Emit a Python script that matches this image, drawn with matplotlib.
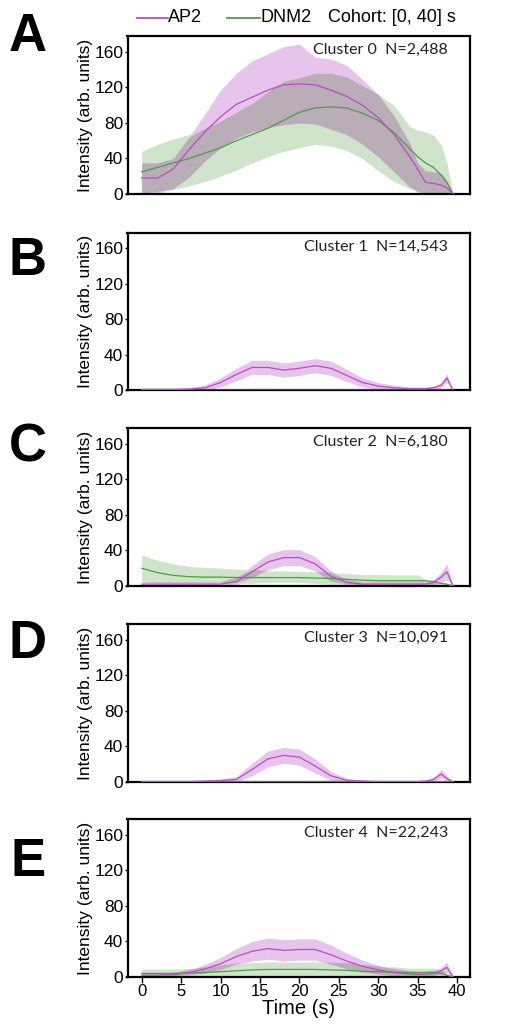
import numpy as np
import matplotlib
matplotlib.use("Agg")
import matplotlib.pyplot as plt
from matplotlib.lines import Line2D

# time points (s), shared by every panel
t = [0, 2, 4, 6, 8, 10, 12, 14, 16, 18, 20, 22, 24, 26, 28, 30, 32, 34, 35, 36, 37, 38, 38.7, 39.5]

letters = ["A", "B", "C", "D", "E"]
cluster_labels = ["Cluster 0  N=2,488", "Cluster 1  N=14,543", "Cluster 2  N=6,180",
                  "Cluster 3  N=10,091", "Cluster 4  N=22,243"]

# AP2 mean and band (one row per cluster)
ap2_mean = [
    [18, 18, 28, 50, 70, 87, 101, 109, 117, 123, 124, 123, 117, 110, 100, 86, 67, 42, 28, 13, 12, 10, 7, 0],
    [1, 1, 1, 1.5, 3, 9, 18, 26, 26, 23, 25, 28, 25, 17, 9, 5, 3, 2, 2, 2, 3, 6, 14, 0],
    [2, 2, 2, 2, 2, 2, 5, 16, 27, 32, 32, 25, 11, 4, 2, 2, 2, 2, 2, 2, 4, 10, 16, 0],
    [0.5, 0.5, 0.5, 0.5, 1, 1.5, 3, 14, 26, 30, 28, 18, 7, 2, 1, 0.5, 0.5, 0.5, 0.5, 1, 3, 9, 4, 0],
    [2, 2, 2.5, 5, 9, 15, 23, 29, 32, 30, 31, 31, 25, 18, 12, 8, 5, 3.5, 3, 3, 4, 7, 11, 0],
]
ap2_lo = [
    [1, 1, 6, 19, 37, 52, 63, 70, 75, 78, 80, 79, 73, 67, 56, 42, 25, 8, 2, 0, 0, 0, 0, 0],
    [0, 0, 0, 0, 0, 4, 11, 18, 18, 15, 17, 20, 17, 10, 4, 1, 0, 0, 0, 0, 1, 3, 9, 0],
    [0, 0, 0, 0, 0, 0, 1, 9, 18, 23, 23, 17, 5, 1, 0, 0, 0, 0, 0, 0, 1, 4, 7, 0],
    [0, 0, 0, 0, 0, 0, 0, 7, 17, 21, 19, 10, 2, 0, 0, 0, 0, 0, 0, 0, 1, 4, 1, 0],
    [1, 1, 0.5, 2, 4, 8, 14, 18, 20, 18, 19, 19, 14, 9, 5, 3, 1, 0.5, 0, 0, 1, 3, 5, 0],
]
ap2_hi = [
    [35, 35, 40, 64, 90, 117, 136, 150, 158, 166, 169, 154, 152, 145, 129, 112, 88, 57, 35, 26, 25, 23, 15, 0],
    [3, 3, 3, 3.5, 6, 14, 25, 34, 34, 31, 33, 36, 33, 24, 14, 9, 6, 4, 4, 4, 5, 9, 19, 0],
    [4, 4, 4, 4, 4, 4, 9, 23, 36, 41, 41, 33, 17, 7, 4, 4, 4, 4, 4, 4, 7, 16, 25, 0],
    [1.5, 1.5, 1.5, 1.5, 2, 3.5, 6, 21, 35, 39, 37, 26, 12, 4, 2, 1.5, 1.5, 1.5, 1.5, 2, 5, 14, 7, 0],
    [3, 3, 4.5, 8, 14, 22, 32, 40, 44, 42, 43, 43, 36, 27, 19, 13, 9, 6.5, 6, 6, 7, 11, 17, 0],
]

# DNM2 mean and band
dnm2_mean = [
    [25, 30, 35, 40, 46, 52, 60, 67, 74, 83, 92, 97, 98, 97, 91, 83, 69, 51, 42, 35, 30, 21, 13, 0],
    [0.5] * 23 + [0],
    [20, 15, 12, 10.5, 10, 10, 9.5, 9.5, 9.5, 9.5, 9.5, 9, 8.5, 7.5, 6.5, 6, 6, 6, 6, 6, 5, 3, 2, 0],
    [0.3] * 23 + [0],
    [4, 4, 4, 4.5, 5, 6, 7, 8, 8.5, 8.5, 8.5, 8.5, 8, 7.5, 6.5, 6, 5.5, 5, 5, 5, 5, 4, 2, 0],
]
dnm2_lo = [
    [0, 3, 5, 9, 14, 20, 27, 35, 42, 48, 52, 56, 54, 49, 40, 26, 14, 6, 3, 1, 0, 0, 0, 0],
    [0] * 24,
    [4, 3, 3, 3, 3, 3, 3, 3, 4, 4, 4, 3, 2, 2, 1, 1, 1, 1, 1, 1, 1, 0, 0, 0],
    [0] * 24,
    [0, 0, 0, 0, 0, 0, 0, 0, 1, 1, 1, 1, 1, 0, 0, 0, 0, 0, 0, 0, 0, 0, 0, 0],
]
dnm2_hi = [
    [48, 56, 62, 67, 74, 82, 92, 102, 115, 127, 131, 136, 136, 132, 122, 112, 100, 76, 72, 70, 66, 55, 35, 0],
    [1.5] * 23 + [0],
    [35, 29, 25, 22, 21, 20, 19, 18, 17, 17, 16.5, 16, 15, 14, 13, 13, 12.5, 12.5, 12.5, 7, 5, 4, 3, 0],
    [1] * 23 + [0],
    [9, 9, 9, 9.5, 11, 13, 15, 16, 17, 17, 17, 17, 16, 15.5, 13.5, 12, 11.5, 10, 10, 10, 10, 8, 4, 0],
]

AP2_LINE = "#b64fc0"
AP2_FILL = "#e7c4ec"
DNM2_LINE = "#4f9b45"
DNM2_FILL = "#d0e4cb"
OVERLAP = "#b9adb7"

W, H = 509, 1026
fig = plt.figure(figsize=(W / 100, H / 100), dpi=100)

tops = [36, 232.5, 428, 624, 819]
ax_h = 158
ax_left, ax_w = 127.5, 343

tv = np.array(t)
for i in range(5):
    ax = fig.add_axes([ax_left / W, 1 - (tops[i] + ax_h) / H, ax_w / W, ax_h / H])
    a_lo, a_hi = np.array(ap2_lo[i]), np.array(ap2_hi[i])
    d_lo, d_hi = np.array(dnm2_lo[i]), np.array(dnm2_hi[i])
    ax.fill_between(tv, d_lo, d_hi, color=DNM2_FILL, lw=0, zorder=1)
    ax.fill_between(tv, a_lo, a_hi, color=AP2_FILL, lw=0, zorder=1)
    o_lo = np.maximum(a_lo, d_lo)
    o_hi = np.minimum(a_hi, d_hi)
    ax.fill_between(tv, o_lo, o_hi, where=o_hi > o_lo, interpolate=True,
                    color=OVERLAP, lw=0, zorder=2)
    ax.plot(tv, dnm2_mean[i], color=DNM2_LINE, lw=0.9, zorder=3)
    ax.plot(tv, ap2_mean[i], color=AP2_LINE, lw=0.9, zorder=4)

    ax.set_xlim(-1.8, 41.7)
    ax.set_ylim(0, 178)
    ax.set_yticks([0, 40, 80, 120, 160])
    ax.tick_params(axis="y", direction="out", length=2.5, width=1, pad=0.5,
                   labelsize=12.5)
    for lab in ax.get_yticklabels():
        lab.set_fontfamily("Liberation Sans")
    for sp in ax.spines.values():
        sp.set_linewidth(1.6)
    ax.set_ylabel("Intensity (arb. units)", fontsize=12.5, family="Liberation Sans",
                  labelpad=1)
    if i == 4:
        ax.set_xticks(range(0, 41, 5))
        ax.tick_params(axis="x", direction="out", length=4, width=1, pad=1,
                       labelsize=12)
        for lab in ax.get_xticklabels():
            lab.set_fontfamily("Liberation Sans")
        ax.set_xlabel("Time (s)", fontsize=14.5, family="Liberation Sans", labelpad=0)
    else:
        ax.set_xticks([])
    ax.text(0.935, 0.955, cluster_labels[i], transform=ax.transAxes, ha="right",
            va="top", fontsize=11.5, family="Lato", color="#222222")

letter_y = [37, 261, 447, 644, 862]
for L, yy in zip(letters, letter_y):
    fig.text(28 / W, 1 - yy / H, L, ha="center", va="center", fontsize=38,
             fontweight="bold", family="Liberation Sans")

# legend row above panel A
ly = 1 - 18 / H
fig.add_artist(Line2D([137 / W, 168 / W], [ly, ly], color=AP2_LINE, lw=1.3))
fig.text(168 / W, ly, "AP2", ha="left", va="center", fontsize=13, family="Liberation Sans")
fig.add_artist(Line2D([227 / W, 260 / W], [ly, ly], color=DNM2_LINE, lw=1.3))
fig.text(260 / W, ly, "DNM2", ha="left", va="center", fontsize=13, family="Liberation Sans")
fig.text(328 / W, ly, "Cohort: [0, 40] s", ha="left", va="center", fontsize=13,
         family="Liberation Sans")

fig.savefig("out.png", dpi=100)
